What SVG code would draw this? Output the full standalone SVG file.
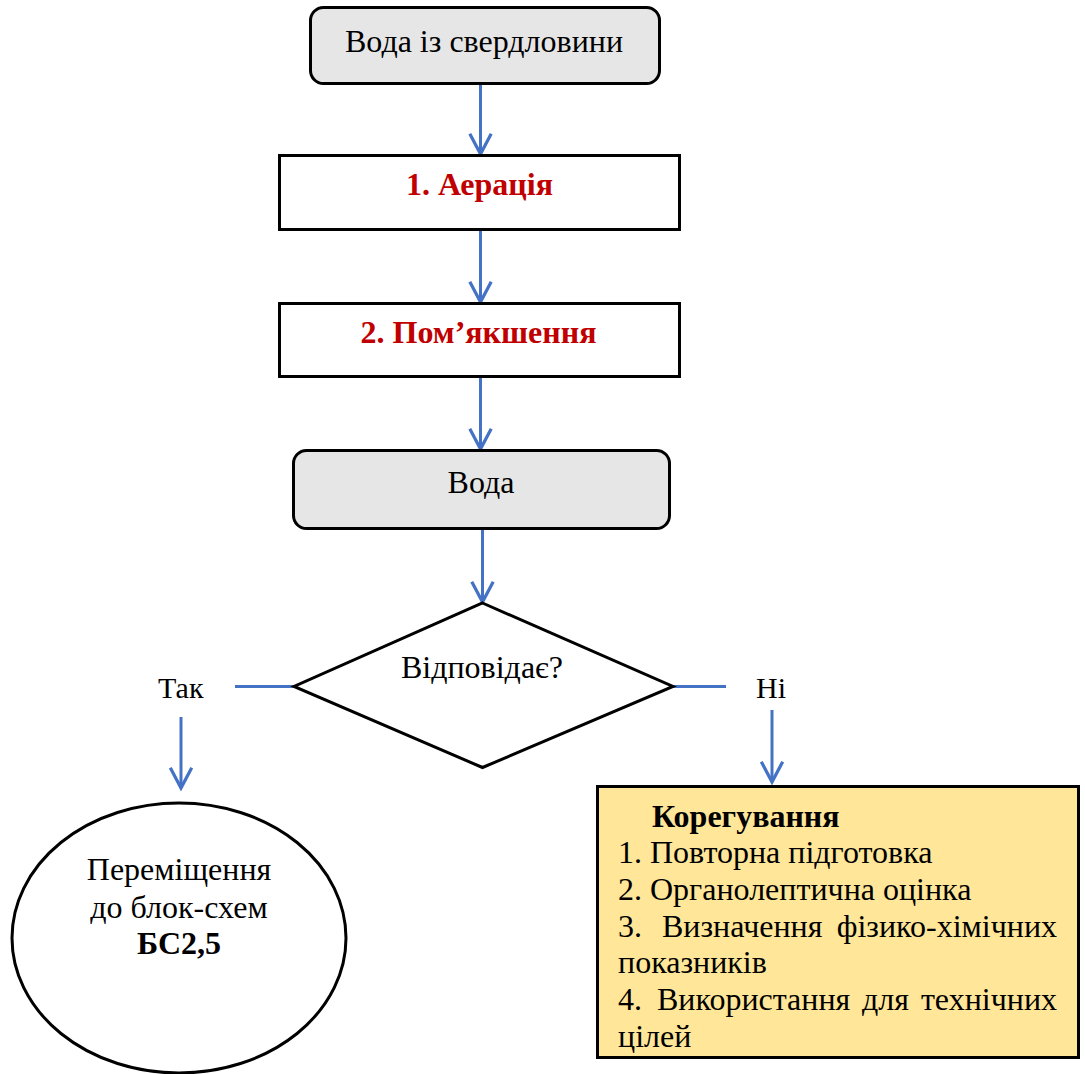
<svg xmlns="http://www.w3.org/2000/svg" width="1085" height="1074" viewBox="0 0 1085 1074" font-family="'Liberation Serif', 'DejaVu Serif', serif">
<style>
text { font-family: 'Liberation Serif', 'DejaVu Serif', serif; fill: #000; }
.t { font-size: 32px; }
.s { font-size: 30px; }
.c { text-anchor: middle; }
.red { fill: #c00000; font-weight: bold; }
.b { font-weight: bold; }
.l { font-size: 32px; }
.term { fill: #e6e6e6; stroke: #000; stroke-width: 3; }
.proc { fill: #fff; stroke: #000; stroke-width: 3; }
.con { stroke: #4472c4; stroke-width: 3; fill: none; }
</style>
<defs>
<marker id="arr" markerUnits="userSpaceOnUse" markerWidth="30" markerHeight="30" viewBox="-22 -14 26 28" refX="0" refY="0" orient="auto">
<path d="M -19,-10 L 0,0 L -19,10" fill="none" stroke="#4472c4" stroke-width="3"/>
</marker>
</defs>
<rect width="1085" height="1074" fill="#fff"/>
<g id="connectors">
<line class="con" x1="480.5" y1="83" x2="480.5" y2="154" marker-end="url(#arr)"/>
<line class="con" x1="480.5" y1="229" x2="480.5" y2="302" marker-end="url(#arr)"/>
<line class="con" x1="480.5" y1="377" x2="480.5" y2="449" marker-end="url(#arr)"/>
<line class="con" x1="482.5" y1="529" x2="482.5" y2="602" marker-end="url(#arr)"/>
<line class="con" x1="235" y1="686.5" x2="294" y2="686.5"/>
<line class="con" x1="673" y1="686.5" x2="726" y2="686.5"/>
<line class="con" x1="181" y1="717" x2="181" y2="788" marker-end="url(#arr)"/>
<line class="con" x1="772" y1="710" x2="772" y2="782" marker-end="url(#arr)"/>
</g>
<g id="start">
<rect class="term" x="310.5" y="7.5" width="349" height="76" rx="13"/>
<text class="t c" x="484" y="52">Вода із свердловини</text>
</g>
<g id="aeration">
<rect class="proc" x="279.5" y="155.5" width="400" height="74"/>
<text class="t c red" x="479.5" y="195">1. Аерація</text>
</g>
<g id="softening">
<rect class="proc" x="279.5" y="303.5" width="400" height="73"/>
<text class="t c red" x="478.5" y="343">2. Пом’якшення</text>
</g>
<g id="water">
<rect class="term" x="293.5" y="450.5" width="376" height="78" rx="13"/>
<text class="t c" x="481" y="493">Вода</text>
</g>
<g id="decision">
<polygon points="482.5,603 673,686.5 482.5,767.5 294,686.5" fill="#fff" stroke="#000" stroke-width="3"/>
<text class="t c" x="482" y="678">Відповідає?</text>
</g>
<g id="label-yes">
<text class="s" x="158" y="698">Так</text>
</g>
<g id="label-no">
<text class="s" x="756" y="698">Ні</text>
</g>
<g id="move">
<ellipse cx="179" cy="938" rx="167" ry="135" fill="#fff" stroke="#000" stroke-width="3"/>
<text class="t c" x="179" y="880">Переміщення</text>
<text class="t c" x="179" y="918">до блок-схем</text>
<text class="t c b" x="179" y="954">БС2,5</text>
</g>
<g id="correction">
<rect x="597.5" y="786.5" width="481" height="271" fill="#ffe699" stroke="#000" stroke-width="3"/>
<text class="l b" x="652" y="827">Корегування</text>
<text class="l" x="618" y="863">1. Повторна підготовка</text>
<text class="l" x="618" y="900">2. Органолептична оцінка</text>
<text class="l" y="937"><tspan x="618">3.</tspan><tspan x="662">Визначення</tspan><tspan x="1057" text-anchor="end">фізико-хімічних</tspan></text>
<text class="l" x="618" y="973">показників</text>
<text class="l" y="1010"><tspan x="618">4.</tspan><tspan x="657">Використання</tspan><tspan x="862">для</tspan><tspan x="1057" text-anchor="end">технічних</tspan></text>
<text class="l" x="618" y="1047">цілей</text>
</g>
</svg>
